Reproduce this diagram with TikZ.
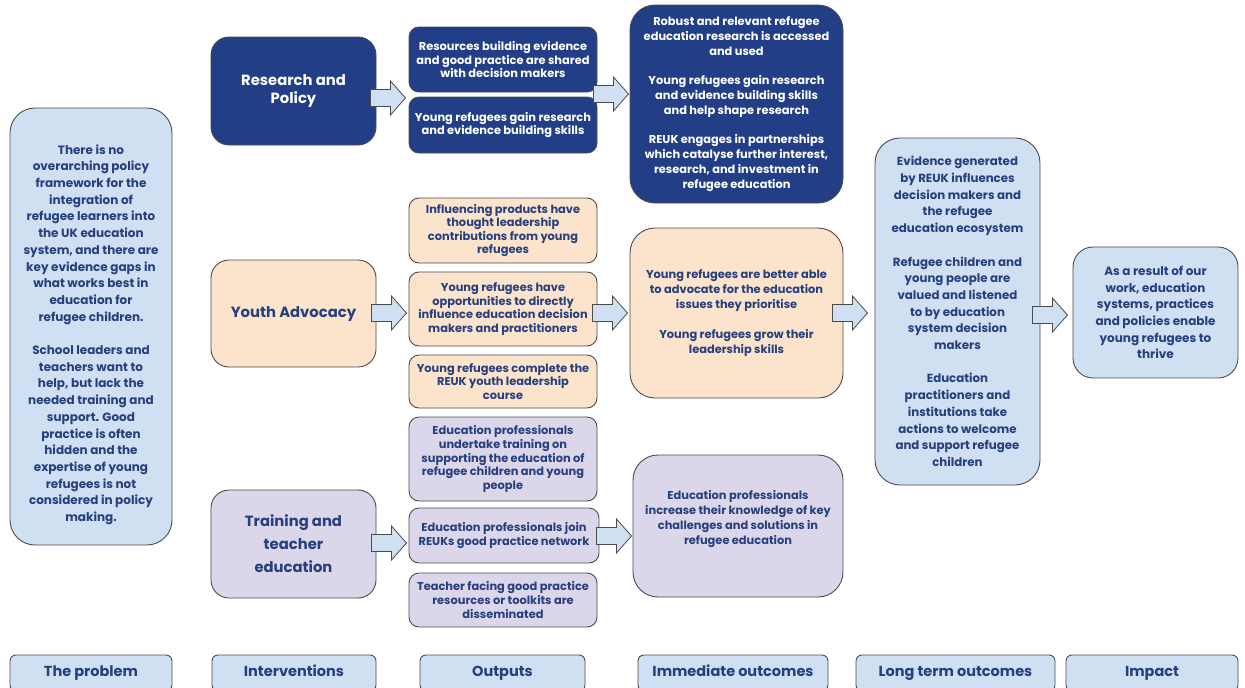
\documentclass[tikz,border=0pt]{standalone}
\usepackage{fontspec}
\setmainfont{Poppins}
\usetikzlibrary{calc}
\definecolor{navy}{RGB}{33,62,135}
\definecolor{txt}{RGB}{38,63,125}
\definecolor{lblue}{RGB}{207,224,242}
\definecolor{beige}{RGB}{251,227,204}
\definecolor{lav}{RGB}{220,214,234}
\definecolor{edge}{RGB}{75,75,75}
\tikzset{
  box/.style={draw=edge, line width=0.9pt, rounded corners=#1, align=center, inner sep=0pt, text=txt},
  fbig/.style={font=\fontsize{12}{16.7}\selectfont\bfseries},
  fhead/.style={font=\fontsize{14.8}{18}\selectfont\bfseries},
  fout/.style={font=\fontsize{11.4}{13.6}\selectfont\bfseries},
  fimm/.style={font=\fontsize{11.4}{14.8}\selectfont\bfseries},
  flab/.style={font=\fontsize{14.5}{16}\selectfont\bfseries, text height=11pt, text depth=3.5pt},
  arrowst/.style={fill=lblue, draw=edge, line width=0.8pt, line join=miter},
}
\newcommand\blockarr[1]{%
  \draw[arrowst] ($(#1)+(0,-8.5)$) -- ++(20,0) -- ++(0,-8.5) -- ++(15,17) -- ++(-15,17) -- ++(0,-8.5) -- ++(-20,0) -- cycle;}
\begin{document}
\begin{tikzpicture}[x=1pt,y=-1pt]
\useasboundingbox (0,0) rectangle (1245,688);
\fill[white] (0,0) rectangle (1245,688);

% problem
\node[box=25pt, fill=lblue, fbig, minimum width=162pt, minimum height=437pt] (prob) at (91,326.5) {\mbox{}\\[9.3pt]There is no\\overarching policy\\framework for the\\integration of\\refugee learners into\\the UK education\\system, and there are\\key evidence gaps in\\what works best in\\education for\\refugee children.\\[16.7pt]School leaders and\\teachers want to\\help, but lack the\\needed training and\\support. Good\\practice is often\\hidden and the\\expertise of young\\refugees is not\\considered in policy\\making.};

% interventions
\node[box=18pt, fill=navy, text=white, fhead, minimum width=165pt, minimum height=108pt] (rp) at (293.5,91) {Research and\\Policy};
\node[box=18pt, fill=beige, fhead, minimum width=165pt, minimum height=107pt] (ya) at (293.5,313.5) {Youth Advocacy};
\node[box=18pt, fill=lav, fhead, font=\fontsize{14.8}{23}\selectfont\bfseries, minimum width=165pt, minimum height=108pt] (tr) at (293.5,544) {Training and\\teacher\\education};

% outputs
\node[box=10pt, fill=navy, text=white, fout, minimum width=188pt, minimum height=65pt] (rpo1) at (503,59.5) {Resources building evidence\\and good practice are shared\\with decision makers};
\node[box=10pt, fill=navy, text=white, fout, minimum width=188pt, minimum height=56pt] (rpo2) at (503,125) {Young refugees gain research\\and evidence building skills};
\node[box=10pt, fill=beige, fout, minimum width=188pt, minimum height=65pt] (yao1) at (503,230.5) {Influencing products have\\thought leadership\\contributions from young\\refugees};
\node[box=10pt, fill=beige, fout, minimum width=188pt, minimum height=74pt] (yao2) at (503,309) {Young refugees have\\opportunities to directly\\influence education decision\\makers and practitioners};
\node[box=10pt, fill=beige, fout, minimum width=188pt, minimum height=53pt] (yao3) at (503,381.5) {Young refugees complete the\\REUK youth leadership\\course};
\node[box=10pt, fill=lav, fout, minimum width=188pt, minimum height=84pt] (tro1) at (503,459) {Education professionals\\undertake training on\\supporting the education of\\refugee children and young\\people};
\node[box=10pt, fill=lav, fout, minimum width=190pt, minimum height=55pt] (tro2) at (504,535.5) {Education professionals join\\REUKs good practice network};
\node[box=10pt, fill=lav, fout, minimum width=188pt, minimum height=54pt] (tro3) at (503,600) {Teacher facing good practice\\resources or toolkits are\\disseminated};

% immediate outcomes
\node[box=25pt, fill=navy, text=white, fimm, minimum width=213pt, minimum height=198pt] (rpi) at (736.5,104) {Robust and relevant refugee\\education research is accessed\\and used\\[14.5pt]Young refugees gain research\\and evidence building skills\\and help shape research\\[14.5pt]REUK engages in partnerships\\which catalyse further interest,\\research, and investment in\\refugee education};
\node[box=25pt, fill=beige, fimm, minimum width=213pt, minimum height=170pt] (yai) at (736.5,313) {Young refugees are better able\\to advocate for the education\\issues they prioritise\\[15pt]Young refugees grow their\\leadership skills};
\node[box=25pt, fill=lav, fimm, minimum width=210pt, minimum height=142pt] (tri) at (738,526) {Education professionals\\increase their knowledge of key\\challenges and solutions in\\refugee education\\[2.1pt]\mbox{}};

% long term
\node[box=25pt, fill=lblue, fbig, font=\fontsize{11.8}{16.7}\selectfont\bfseries, minimum width=165pt, minimum height=347pt] (lt) at (957.5,311.5) {Evidence generated\\by REUK influences\\decision makers and\\the refugee\\education ecosystem\\[16.7pt]Refugee children and\\young people are\\valued and listened\\to by education\\system decision\\makers\\[16.7pt]Education\\practitioners and\\institutions take\\actions to welcome\\and support refugee\\children};

% impact
\node[box=20pt, fill=lblue, fbig, minimum width=165pt, minimum height=131pt] (imp) at (1155.5,312.5) {As a result of our\\work, education\\systems, practices\\and policies enable\\young refugees to\\thrive};

% bottom labels
\node[box=6pt, fill=lblue, flab, minimum width=162pt, minimum height=36pt] (l1) at (91,673) {The problem};
\node[box=6pt, fill=lblue, flab, minimum width=164pt, minimum height=36pt] (l2) at (294,673) {Interventions};
\node[box=6pt, fill=lblue, flab, minimum width=165pt, minimum height=36pt] (l3) at (502.5,673) {Outputs};
\node[box=6pt, fill=lblue, flab, minimum width=190pt, minimum height=36pt] (l4) at (733,673) {Immediate outcomes};
\node[box=6pt, fill=lblue, flab, minimum width=199pt, minimum height=36pt] (l5) at (955.5,673) {Long term outcomes};
\node[box=6pt, fill=lblue, flab, minimum width=172pt, minimum height=36pt] (l6) at (1152,673) {Impact};

% arrows
\coordinate (a1) at ($(rp.east |- 0,98)+(-6,0)$);
\coordinate (a2) at ($(rpo1.east |- 0,94)+(-4,0)$);
\coordinate (a3) at ($(ya.east |- 0,313)+(-5,0)$);
\coordinate (a4) at ($(yao2.east |- 0,313)+(-5,0)$);
\coordinate (a5) at ($(tr.east |- 0,543)+(-5,0)$);
\coordinate (a6) at ($(tro2.east |- 0,536)+(-3,0)$);
\coordinate (a7) at ($(yai.east |- 0,313)+(-11,0)$);
\coordinate (a8) at ($(lt.east |- 0,315)+(-8,0)$);
\blockarr{a1}
\blockarr{a2}
\blockarr{a3}
\blockarr{a4}
\blockarr{a5}
\blockarr{a6}
\blockarr{a7}
\blockarr{a8}
\end{tikzpicture}
\end{document}
